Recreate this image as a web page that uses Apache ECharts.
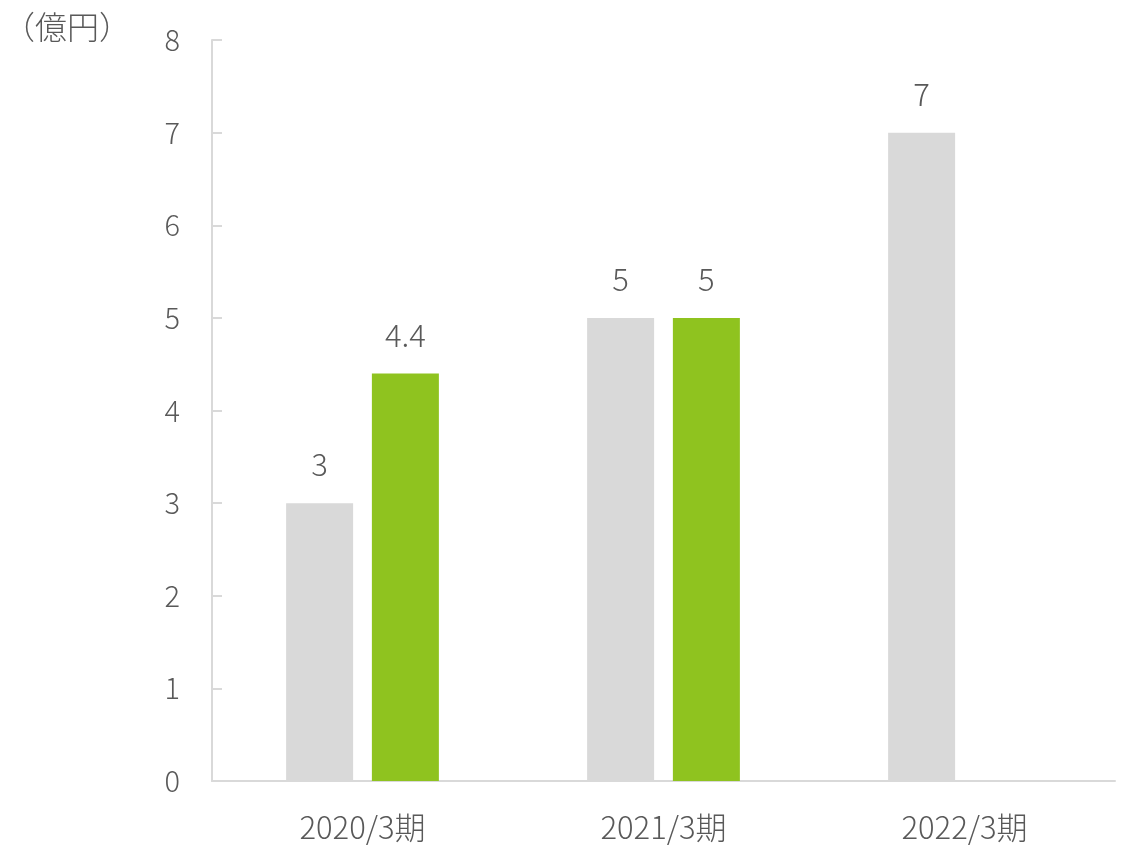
<!DOCTYPE html>
<html><head><meta charset="utf-8">
<script src="https://cdn.jsdelivr.net/npm/echarts@6/dist/echarts.min.js"></script>
<style>html,body{margin:0;padding:0;background:#fff}#c{width:1122px;height:845px}</style>
</head><body><div id="c"></div>
<script>
const categories = ['2020/3期', '2021/3期', '2022/3期'];
const grayValues = [3, 5, 7];
const greenValues = [4.4, 5, null];
const yTicks = [0, 1, 2, 3, 4, 5, 6, 7, 8];
const unitLabel = '（億円）';

const FONT = '"Noto Sans CJK JP", "Noto Sans", sans-serif';
const TXT = '#595959';
const chart = echarts.init(document.getElementById('c'));
chart.setOption({
  animation: false,
  backgroundColor: '#fff',
  grid: { left: 212, right: 7, top: 40, bottom: 64, containLabel: false },
  graphic: [{ type: 'text', left: 3, top: 11, style: { text: unitLabel, font: '300 32px ' + FONT, fill: TXT } }],
  xAxis: {
    type: 'category', data: categories,
    axisLine: { lineStyle: { color: '#d9d9d9', width: 2 } },
    axisTick: { show: false },
    axisLabel: { color: TXT, fontSize: 31, fontFamily: FONT, fontWeight: 300, margin: 31 }
  },
  yAxis: {
    type: 'value', min: yTicks[0], max: yTicks[yTicks.length - 1], interval: 1,
    splitLine: { show: false },
    axisLine: { show: true, lineStyle: { color: '#d9d9d9', width: 2 } },
    axisTick: { show: true, inside: true, length: 10, lineStyle: { color: '#d9d9d9', width: 2 } },
    axisLabel: { color: TXT, fontSize: 29, fontFamily: FONT, fontWeight: 300, margin: 32 }
  },
  series: [
    { type: 'bar', data: grayValues, barWidth: 67, barGap: '28%', itemStyle: { color: '#d9d9d9' },
      label: { show: true, position: 'top', distance: 23, color: TXT, fontSize: 31, fontFamily: FONT, fontWeight: 300 } },
    { type: 'bar', data: greenValues, barWidth: 67, barGap: '28%', itemStyle: { color: '#8fc31f' },
      label: { show: true, position: 'top', distance: 23, color: TXT, fontSize: 31, fontFamily: FONT, fontWeight: 300 } }
  ]
});
</script></body></html>
